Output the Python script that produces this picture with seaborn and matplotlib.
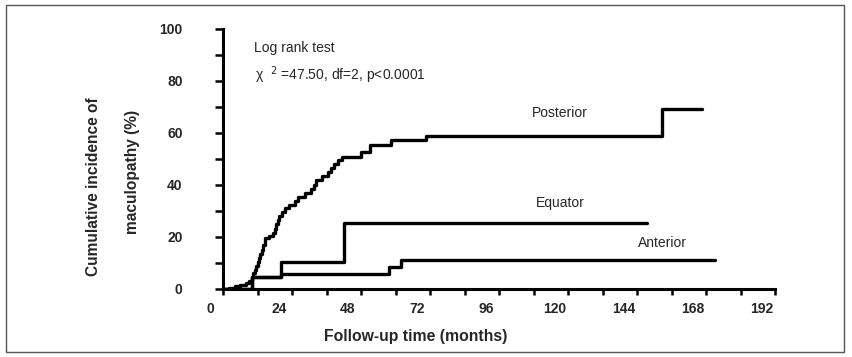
import numpy as np
import pandas as pd
import matplotlib
matplotlib.use("Agg")
import matplotlib.pyplot as plt
import matplotlib.transforms as mtransforms
from matplotlib.patches import Rectangle
import seaborn as sns

# ---- data ----
post_t = [0, 2, 4, 6, 8, 9, 10, 10.5, 11, 11.5, 12, 12.5, 13, 13.5, 14, 14.5, 16, 17.5,
          18, 18.5, 19, 19.5, 20.5, 21.5, 23, 25, 26, 28.5, 30.5, 31.5, 32.5, 34.5, 36.5,
          37.5, 38.5, 40, 41.5, 48, 51, 58.5, 70.7, 152.8]
post_v = [0, 0.5, 1, 1.5, 2.3, 3, 4.5, 6, 7.5, 9, 10.5, 12, 13.5, 15, 17, 19.5, 20.5, 21.5,
          23, 25, 26.5, 28, 29.5, 31, 32.5, 34, 35.5, 37, 38.5, 40, 42, 43.5, 45,
          46.5, 48, 49.5, 50.8, 52.7, 55.4, 57.3, 58.8, 69.1]
post_end = 166.7

equ_t = [0, 10, 20.1, 42.2]
equ_v = [0, 4.8, 10.5, 25.5]
equ_end = 147.4

ant_t = [0, 10, 20.1, 57.9, 62]
ant_v = [0, 4.8, 5.8, 8.6, 11.1]
ant_end = 171.3

series_names = ["Posterior", "Equator", "Anterior"]
x_ticks = [0, 24, 48, 72, 96, 120, 144, 168, 192]
y_ticks = [0, 20, 40, 60, 80, 100]

frames = []
for name, t, v, end in [("Posterior", post_t, post_v, post_end),
                        ("Equator", equ_t, equ_v, equ_end),
                        ("Anterior", ant_t, ant_v, ant_end)]:
    tt = list(t) + [end]
    vv = list(v) + [v[-1]]
    frames.append(pd.DataFrame({"time": tt, "inc": vv, "group": name}))
df = pd.concat(frames, ignore_index=True)

sns.set_theme(style="white")
plt.rcParams["font.family"] = ["Liberation Sans", "DejaVu Sans"]

fig = plt.figure(figsize=(8.52, 3.57), dpi=100)
ax = fig.add_axes([223 / 852, 1 - 289 / 357, (775 - 223) / 852, (289 - 29) / 357])

for name in series_names:
    sub = df[df["group"] == name]
    sns.lineplot(data=sub, x="time", y="inc", ax=ax, color="black", lw=2.4,
                 drawstyle="steps-post", estimator=None, sort=False, legend=False)

ax.set_xlim(0, 192)
ax.set_ylim(0, 100)
ax.set_xticks(x_ticks)
ax.set_xticks(np.arange(12, 192, 24), minor=True)
ax.set_yticks(y_ticks)
ax.set_yticks(np.arange(10, 100, 20), minor=True)
ax.set_xticklabels([str(x) for x in x_ticks], fontsize=10, fontweight="bold")
ax.set_yticklabels([str(y) for y in y_ticks], fontsize=10, fontweight="bold")

for s in ["top", "right"]:
    ax.spines[s].set_visible(False)
for s in ["left", "bottom"]:
    ax.spines[s].set_linewidth(2.2)
    ax.spines[s].set_color("black")
    ax.spines[s].set_capstyle("projecting")

ax.tick_params(axis="x", which="both", direction="out", length=4.5, width=1.8,
               color="black", pad=5, bottom=True)
ax.tick_params(axis="y", which="both", direction="out", length=6, width=1.8,
               color="black", pad=23, left=True)
ax.grid(False)
ax.set_xlabel("")
ax.set_ylabel("")

# shift x tick labels slightly left as in the reference
offset = mtransforms.ScaledTranslation(-13 / 100, 0, fig.dpi_scale_trans)
for lab in ax.get_xticklabels():
    lab.set_transform(lab.get_transform() + offset)

# axis titles
fig.text(416 / 852, 1 - 337 / 357, "Follow-up time (months)", ha="center", va="center",
         fontsize=11.3, fontweight="bold")
fig.text(93 / 852, 1 - 187 / 357, "Cumulative incidence of", ha="center", va="center",
         rotation=90, fontsize=11.2, fontweight="bold")
fig.text(133 / 852, 1 - 172 / 357, "maculopathy (%)", ha="center", va="center",
         rotation=90, fontsize=11.2, fontweight="bold")

# annotations
fig.text(254 / 852, 1 - 48 / 357, "Log rank test", ha="left", va="center", fontsize=10)
fig.text(255 / 852, 1 - 75 / 357, "χ  $^{2}$ =47.50, df=2, p<0.0001", ha="left", va="center",
         fontsize=10)
fig.text(560 / 852, 1 - 113 / 357, "Posterior", ha="center", va="center", fontsize=10)
fig.text(560 / 852, 1 - 203 / 357, "Equator", ha="center", va="center", fontsize=10)
fig.text(662 / 852, 1 - 243 / 357, "Anterior", ha="center", va="center", fontsize=10)

# outer frame
fig.patches.append(Rectangle((6 / 852, 5 / 357), (844 - 6) / 852, (352 - 5) / 357,
                             transform=fig.transFigure, fill=False, edgecolor="#555555",
                             lw=1.0))

fig.savefig("out.png", dpi=100)
